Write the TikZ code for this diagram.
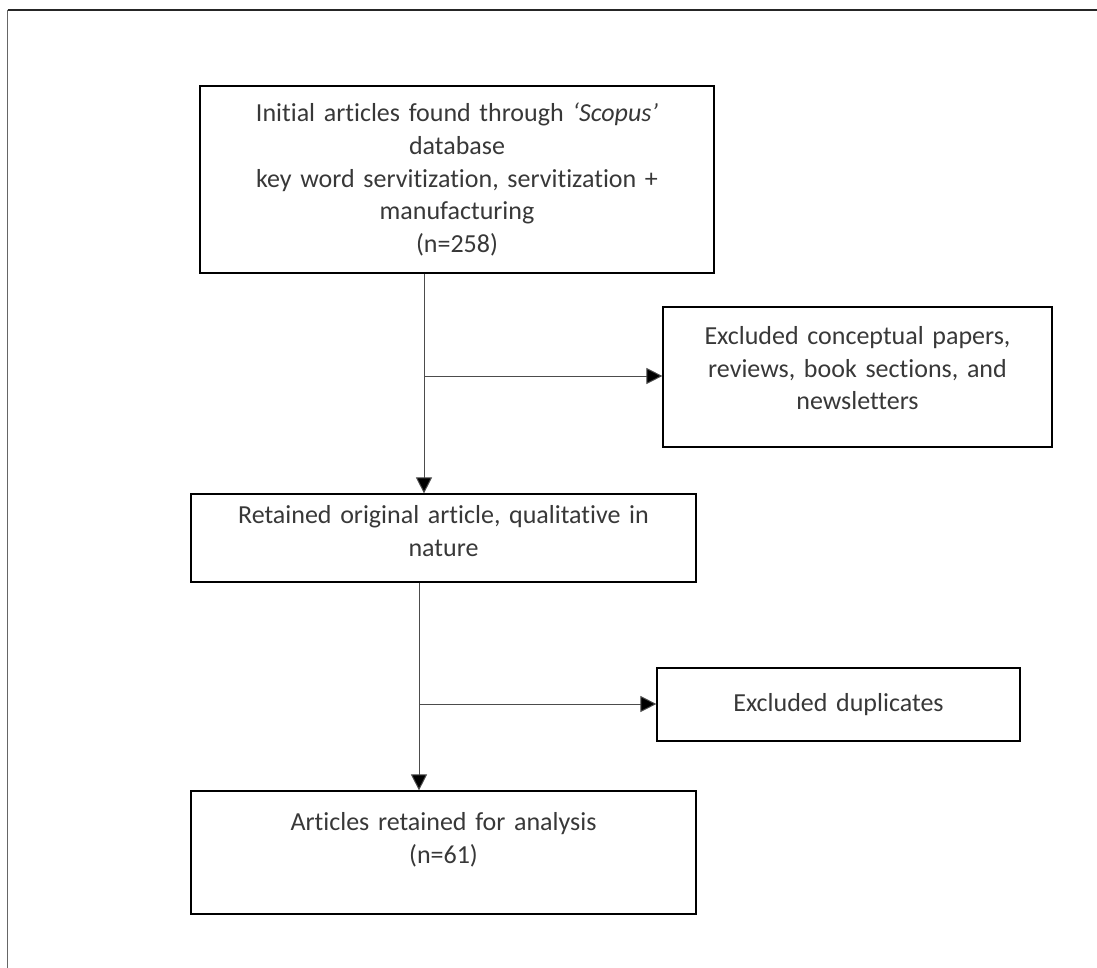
\documentclass[tikz,border=0pt]{standalone}
\usepackage{fontspec}
\setmainfont{Carlito}[Ligatures={NoCommon}]
\usetikzlibrary{arrows.meta}

\tikzset{
  stagebox/.style={draw=black, line width=1.2pt, rectangle, inner sep=0pt,
    align=center, text=black!78, font=\fontsize{26}{32.8}\selectfont},
  flow/.style={draw=black!70, line width=1pt,
    -{Triangle[length=16pt,width=16pt,fill=black]}},
  frame/.style={line width=1.6pt}
}

\begin{document}
\begin{tikzpicture}[x=1pt, y=-1pt]
  \useasboundingbox (0,0) rectangle (1097,968);

  % page frame (top and left edges only)
  \coordinate (fTL) at (7.5,10);
  \coordinate (fTR) at (1097,10);
  \coordinate (fBL) at (7.5,968);
  \draw[frame, draw=black!60] (fTL) -- (fBL);
  \draw[frame, draw=black!85] (fTL) -- (fTR);

  % stages of the selection
  \node[stagebox, minimum width=514pt, minimum height=187pt, text width=494pt]
    (b1) at (457,179.5)
    {Initial articles found through \textit{‘Scopus’}\\
     database\\
     key word servitization, servitization +\\
     manufacturing\\
     (n=258)};

  \node[stagebox, minimum width=389pt, minimum height=140pt, text width=370pt]
    (b2) at (857.5,377)
    {Excluded conceptual papers,\\
     reviews, book sections, and\\
     newsletters\rule[-18pt]{0pt}{0pt}};

  \node[stagebox, minimum width=505pt, minimum height=88pt, text width=485pt]
    (b3) at (443.5,538)
    {Retained original article, qualitative in\\
     nature\rule[-14pt]{0pt}{0pt}};

  \node[stagebox, minimum width=363pt, minimum height=73pt, text width=343pt]
    (b4) at (838.5,704.5)
    {Excluded duplicates};

  \node[stagebox, minimum width=505pt, minimum height=123pt, text width=485pt]
    (b5) at (443.5,852.5)
    {Articles retained for analysis\\
     (n=61)\rule[-29pt]{0pt}{0pt}};

  % branch points on the main flow
  \coordinate (j1) at (424,376);
  \coordinate (j2) at (419,704);

  \draw[flow] (b1.south -| j1) -- (b3.north -| j1);
  \draw[flow] (j1) -- (j1 -| b2.west);
  \draw[flow] (b3.south -| j2) -- (b5.north -| j2);
  \draw[flow] (j2) -- (j2 -| b4.west);
\end{tikzpicture}
\end{document}
